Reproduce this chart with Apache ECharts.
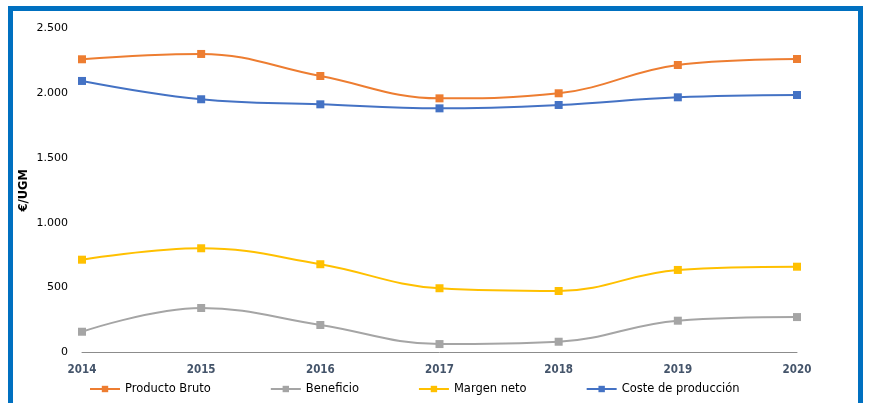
<!DOCTYPE html>
<html>
<head>
<meta charset="utf-8">
<script src="https://cdn.jsdelivr.net/npm/echarts@6/dist/echarts.min.js"></script>
<style>
html,body{margin:0;padding:0;background:#fff;}
#c{width:869px;height:403px;}
</style>
</head>
<body>
<div id="c"></div>
<script>
const years = ['2014','2015','2016','2017','2018','2019','2020'];
const productoBruto = [2259, 2300, 2130, 1958, 1997, 2215, 2261];
const beneficio = [160, 343, 212, 65, 83, 245, 273];
const margenNeto = [715, 803, 680, 495, 474, 636, 661];
const costeProduccion = [2092, 1951, 1912, 1881, 1907, 1966, 1984];
const yTicks = [0, 500, 1000, 1500, 2000, 2500];

const chart = echarts.init(document.getElementById('c'), null, {renderer: 'canvas'});

function mk(name, data, color) {
  return {
    name: name, type: 'line', data: data, smooth: 0.4,
    symbol: 'rect', symbolSize: 8,
    lineStyle: {color: color, width: 2},
    itemStyle: {color: color},
    emphasis: {disabled: true}
  };
}

chart.setOption({
  animation: false,
  backgroundColor: '#fff',
  graphic: [{
    type: 'rect', silent: true, z: 100,
    shape: {x: 10.5, y: 8.5, width: 850, height: 430},
    style: {fill: 'none', stroke: '#0070C0', lineWidth: 5}
  }],
  grid: {left: 82, right: 72, top: 28, bottom: 50.5, containLabel: false},
  legend: {
    left: 89, top: 383, padding: 0, itemWidth: 30, itemHeight: 8, itemGap: 59,
    textStyle: {fontFamily: 'DejaVu Sans', fontSize: 11.5, color: '#000'},
    data: ['Producto Bruto', 'Beneficio', 'Margen neto', 'Coste de producción']
  },
  xAxis: {
    type: 'category', data: years, boundaryGap: false,
    axisLine: {lineStyle: {color: '#8c8c8c', width: 1}},
    axisTick: {show: false},
    axisLabel: {margin: 12, fontFamily: 'DejaVu Sans Condensed', fontWeight: 'bold', fontSize: 11.5, color: '#44546A'}
  },
  yAxis: {
    type: 'value', min: yTicks[0], max: yTicks[yTicks.length-1], interval: 500,
    name: '€/UGM', nameLocation: 'middle', nameGap: 52, nameRotate: 90, nameMoveOverlap: false,
    nameTextStyle: {fontFamily: 'DejaVu Sans', fontWeight: 'bold', fontSize: 11.5, color: '#000'},
    axisLine: {show: false}, axisTick: {show: false}, splitLine: {show: false},
    axisLabel: {margin: 14, fontFamily: 'DejaVu Sans', fontSize: 11, color: '#000',
      formatter: v => v >= 1000 ? Math.floor(v/1000) + '.' + String(v%1000).padStart(3,'0') : String(v)}
  },
  series: [
    mk('Producto Bruto', productoBruto, '#ED7D31'),
    mk('Beneficio', beneficio, '#A5A5A5'),
    mk('Margen neto', margenNeto, '#FFC000'),
    mk('Coste de producción', costeProduccion, '#4472C4')
  ]
});
</script>
</body>
</html>
